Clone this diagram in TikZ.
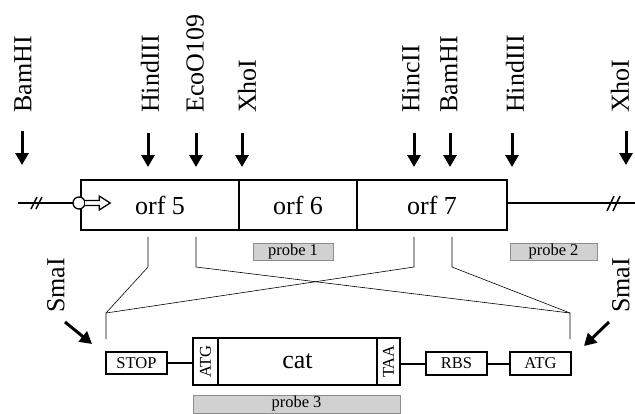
\documentclass[tikz,border=0pt]{standalone}
\usepackage{fontspec}
\setmainfont{Liberation Serif}
\usetikzlibrary{arrows.meta}
\begin{document}
\begin{tikzpicture}[x=1pt,y=-1pt,
  big/.style={font=\fontsize{26}{26}\selectfont},
  small/.style={font=\fontsize{16.5}{16.5}\selectfont},
  site/.style={big, rotate=90, anchor=west, inner sep=0pt},
  cut/.style={line width=3pt, -{Triangle[length=12pt,width=13pt]}},
  orfbox/.style={draw, line width=1.6pt, minimum height=50pt, inner sep=0pt, big},
  sbox/.style={draw, line width=1.6pt, inner sep=0pt, small},
  probe/.style={fill=black!18, draw=black!45, line width=0.6pt, inner sep=0pt, small},
  thinl/.style={line width=0.6pt},
  mainl/.style={line width=1.3pt},
  brk/.style={line width=1.5pt}]
\useasboundingbox (0,0) rectangle (635,413);

% restriction sites
\foreach \lx/\ax/\ay/\n/\t in {23/22/131/s1/BamHI, 150/148/133/s2/HindIII, 195/196/133/s3/EcoO109, 247/242/133/s4/XhoI, 411/414/133/s5/HincII, 449/450/133/s6/BamHI, 515/512/133/s7/HindIII, 620/626/131/s8/XhoI}{
  \node[site] (\n) at (\lx,113) {\t};
  \coordinate (\n a) at (\ax,\ay);
  \coordinate (\n b) at (\ax,\ay+34);
  \draw[cut] (\n a) -- (\n b);
}

% main line
\coordinate (Lstart) at (18,203);
\coordinate (Rend) at (635,203);
\node[circle, minimum size=12pt, inner sep=0pt] (prom) at (79,203) {};
\draw[mainl] (Lstart) -- (prom.west);
\draw[brk] (31,209) -- (37,197) (36,209) -- (42,197);

% orf boxes
\node[orfbox, minimum width=158pt] (orf5) at (160,205) {orf 5};
\node[orfbox, minimum width=118pt] (orf6) at (298,205) {orf 6};
\node[orfbox, minimum width=150pt] (orf7) at (432,205) {orf 7};
\draw[mainl] (orf7.east |- prom) -- (Rend);
\draw[brk] (607,211) -- (614,196) (613,211) -- (620,196);

% promoter
\draw[line width=1.3pt, fill=white] (prom) circle (6pt);
\draw[line width=1.3pt, fill=white, line join=miter]
  (prom.east) ++(0,-2.5) -- ++(14,0) -- ++(0,-4.5) -- ++(11,7) -- ++(-11,7) -- ++(0,-4.5) -- ++(-14,0);

% probes
\node[probe, minimum width=80pt, minimum height=17pt] (p1) at (293,251.5) {probe 1};
\node[probe, minimum width=87pt, minimum height=17pt] (p2) at (553.5,251.5) {probe 2};
\node[probe, minimum width=207pt, minimum height=18pt] (p3) at (296.5,404) {probe 3};

% lower construct
\node[sbox, minimum width=61pt, minimum height=22pt] (stop) at (136.5,363) {STOP};
\node[sbox, minimum width=25pt, minimum height=47pt] (catA) at (205.5,361.5) {};
\node[small, rotate=90, inner sep=0pt] (catAt) at (catA) {ATG};
\node[sbox, big, minimum width=159pt, minimum height=47pt] (cat) at (297.5,361.5) {cat};
\node[sbox, minimum width=23pt, minimum height=47pt] (taa) at (388.5,361.5) {};
\node[small, rotate=90, inner sep=0pt] (taat) at (taa) {TAA};
\node[sbox, minimum width=61pt, minimum height=23pt] (rbs) at (456.5,363.5) {RBS};
\node[sbox, minimum width=61pt, minimum height=23pt] (atg) at (540.5,363.5) {ATG};
\draw[line width=2pt] (stop.east) -- (stop.east -| catA.west);
\draw[line width=2pt] (taa.east |- rbs.west) -- (rbs.west);
\draw[line width=2pt] (rbs.east) -- (atg.west);

% mapping lines
\coordinate (a1) at (148,237); \coordinate (a2) at (148,267);
\coordinate (b1) at (196,237); \coordinate (b2) at (196,267);
\coordinate (c1) at (414,237); \coordinate (c2) at (414,267);
\coordinate (d1) at (452,237); \coordinate (d2) at (452,267);
\coordinate (jl) at (106,313); \coordinate (jl2) at (106,339);
\coordinate (jr) at (570,313); \coordinate (jr2) at (570,339);
\draw[thinl] (a1) -- (a2) -- (jl) -- (jl2);
\draw[thinl] (b1) -- (b2) -- (jr) -- (jr2);
\draw[thinl] (c1) -- (c2) -- (jl);
\draw[thinl] (d1) -- (d2) -- (jr);

% SmaI
\node[site] (sma1) at (56,313) {SmaI};
\node[site] (sma2) at (621,313) {SmaI};
\coordinate (sm1a) at (65,322); \coordinate (sm1b) at (92,344);
\coordinate (sm2a) at (609,322); \coordinate (sm2b) at (584,346);
\draw[cut] (sm1a) -- (sm1b);
\draw[cut] (sm2a) -- (sm2b);
\end{tikzpicture}
\end{document}
